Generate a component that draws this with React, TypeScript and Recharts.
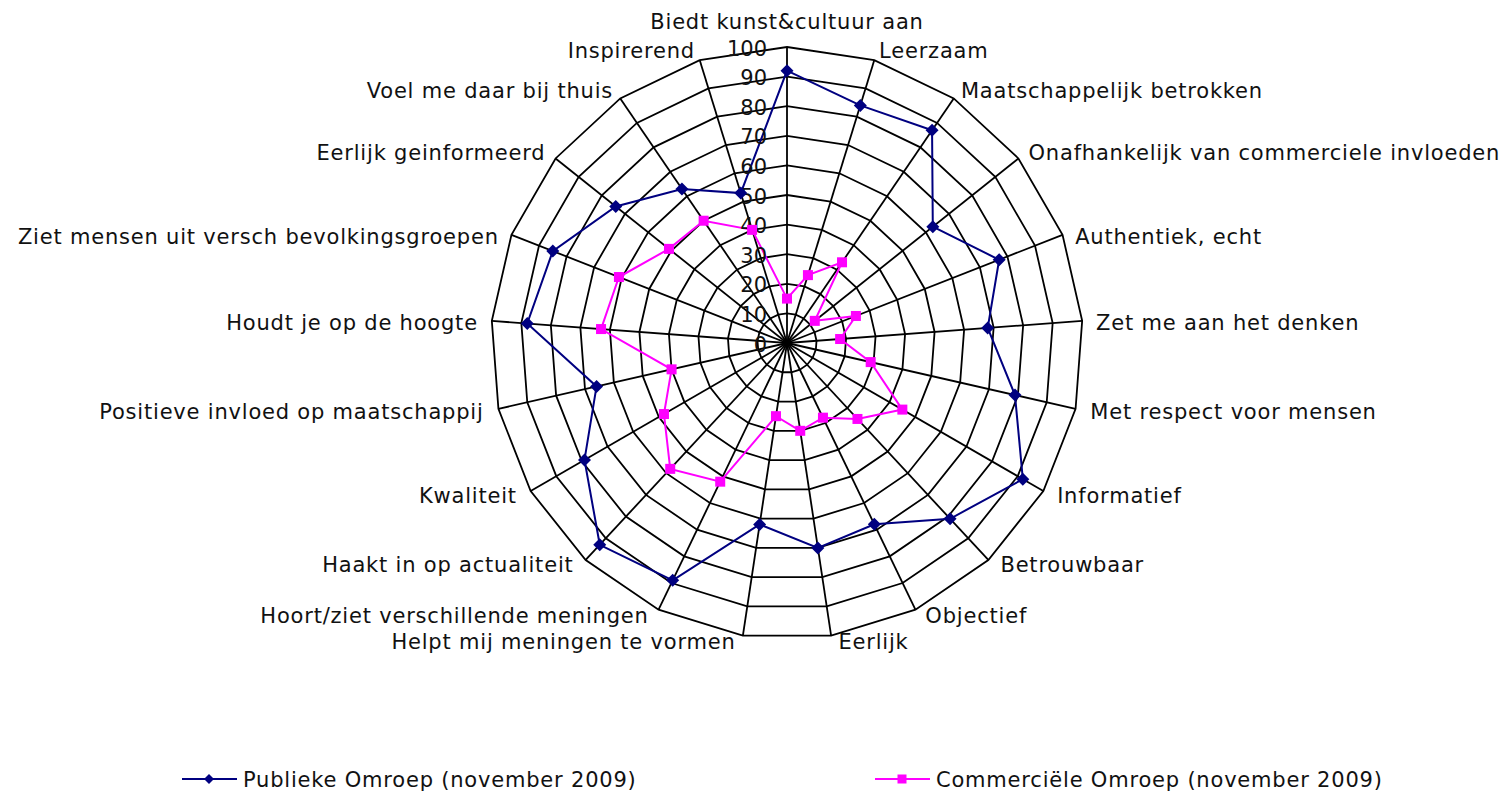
import React from 'react';
import { RadarChart, PolarGrid, PolarAngleAxis, PolarRadiusAxis, Radar, Legend } from 'recharts';

const categories = [
  'Biedt kunst&cultuur aan',
  'Leerzaam',
  'Maatschappelijk betrokken',
  'Onafhankelijk van commerciele invloeden',
  'Authentiek, echt',
  'Zet me aan het denken',
  'Met respect voor mensen',
  'Informatief',
  'Betrouwbaar',
  'Objectief',
  'Eerlijk',
  'Helpt mij meningen te vormen',
  'Hoort/ziet verschillende meningen',
  'Haakt in op actualiteit',
  'Kwaliteit',
  'Positieve invloed op maatschappij',
  'Houdt je op de hoogte',
  'Ziet mensen uit versch bevolkingsgroepen',
  'Eerlijk geinformeerd',
  'Voel me daar bij thuis',
  'Inspirerend',
];

const publiekeOmroep = [92, 84, 87, 63, 77, 68, 79, 92, 81, 68, 70, 62, 89, 93, 79, 66, 88, 85, 74, 63, 53];
const commercieleOmroep = [15, 24, 33, 12, 25, 18, 29, 45, 35, 28, 30, 25, 52, 58, 48, 40, 63, 61, 51, 50, 40];

const radiusDomain = [0, 100];
const radiusTickCount = 11;

const seriesKeys = ['publiek', 'commercieel'];
const seriesNames = ['Publieke Omroep (november 2009)', 'Commerciële Omroep (november 2009)'];
const seriesColors = ['#000080', '#FF00FF'];

const data = categories.map((c, i) => ({
  category: c,
  publiek: publiekeOmroep[i],
  commercieel: commercieleOmroep[i],
}));

const W = 1510;
const H = 794;
const CX = 787;
const CY = 343;
const R = 296;
const FONT = '"DejaVu Sans", Verdana, sans-serif';
const FS = 21;
const LS = 0.8;
const TEXT_COLOR = '#111';
const LEGEND_ITEM_X = [182, 875];

function AngleTick(props: any) {
  const { x, y, payload } = props;
  const dx = x - CX;
  const dy = y - CY;
  const len = Math.hypot(dx, dy) || 1;
  const s = dx / len;
  const c = -dy / len;
  const vx = CX + R * s;
  const vy = CY - R * c;
  let anchor: 'start' | 'end' | 'middle' = 'middle';
  let tx = vx;
  let baseline = vy - 18;
  if (Math.abs(s) >= 0.02) {
    const gap = c > 0 ? 4 + 10 * s * s : 6 + 9 * Math.abs(s);
    tx = vx + Math.sign(s) * gap;
    anchor = s > 0 ? 'start' : 'end';
    const off = c > 0.45 ? -10 * c : 2 + (c < 0 ? 4 * -c : 0);
    baseline = vy + off + 0.36 * FS;
  }
  return (
    <text
      x={tx}
      y={baseline}
      textAnchor={anchor}
      fontFamily={FONT}
      fontSize={FS}
      letterSpacing={LS}
      fill={TEXT_COLOR}
    >
      {payload.value}
    </text>
  );
}

function RadiusTick(props: any) {
  const { x, y, payload } = props;
  return (
    <text
      x={x - 20}
      y={y + 0.36 * FS + 1}
      textAnchor="end"
      fontFamily={FONT}
      fontSize={FS}
      fill={TEXT_COLOR}
    >
      {payload.value}
    </text>
  );
}

function Diamond(props: any) {
  const { cx, cy } = props;
  if (cx == null || cy == null) return null;
  const h = 6.5;
  return (
    <path
      d={`M${cx},${cy - h}L${cx + h},${cy}L${cx},${cy + h}L${cx - h},${cy}Z`}
      fill={seriesColors[0]}
      stroke="none"
    />
  );
}

function Square(props: any) {
  const { cx, cy } = props;
  if (cx == null || cy == null) return null;
  const h = 5;
  return <rect x={cx - h} y={cy - h} width={2 * h} height={2 * h} fill={seriesColors[1]} stroke="none" />;
}

function LegendContent(props: any) {
  const payload = props.payload || [];
  const cy = 17;
  return (
    <svg width={W} height={34} style={{ display: 'block' }}>
      {payload.map((p: any) => {
        let i = seriesKeys.indexOf(p.dataKey);
        if (i < 0) i = seriesNames.indexOf(p.value);
        if (i < 0) return null;
        const x0 = LEGEND_ITEM_X[i];
        const color = seriesColors[i];
        const mx = x0 + 27;
        return (
          <g key={i}>
            <line x1={x0} x2={x0 + 55} y1={cy} y2={cy} stroke={color} strokeWidth={2} />
            {i === 0 ? (
              <path d={`M${mx},${cy - 5}L${mx + 5},${cy}L${mx},${cy + 5}L${mx - 5},${cy}Z`} fill={color} />
            ) : (
              <rect x={mx - 4.5} y={cy - 4.5} width={9} height={9} fill={color} />
            )}
            <text
              x={x0 + 61}
              y={cy + 0.36 * FS}
              fontFamily={FONT}
              fontSize={FS}
              letterSpacing={LS}
              fill={TEXT_COLOR}
            >
              {seriesNames[i]}
            </text>
          </g>
        );
      })}
    </svg>
  );
}

export default function App() {
  return (
    <div style={{ position: 'absolute', left: 0, top: 0, width: W, height: H, background: '#fff' }}>
      <RadarChart
        width={W}
        height={H}
        data={data}
        cx={CX}
        cy={CY}
        outerRadius={R}
        margin={{ top: 0, right: 0, bottom: 0, left: 0 }}
      >
        <PolarGrid gridType="polygon" stroke="#000" strokeWidth={1.8} strokeOpacity={1} />
        <PolarAngleAxis dataKey="category" tick={<AngleTick />} tickLine={false} axisLine={false} />
        <PolarRadiusAxis
          angle={90}
          type="number"
          domain={radiusDomain as any}
          tickCount={radiusTickCount}
          axisLine={false}
          tickLine={false}
          tick={<RadiusTick />}
        />
        <Radar
          name={seriesNames[0]}
          dataKey={seriesKeys[0]}
          stroke={seriesColors[0]}
          strokeWidth={2}
          fill="none"
          fillOpacity={0}
          dot={<Diamond />}
          activeDot={false}
          isAnimationActive={false}
        />
        <Radar
          name={seriesNames[1]}
          dataKey={seriesKeys[1]}
          stroke={seriesColors[1]}
          strokeWidth={2}
          fill="none"
          fillOpacity={0}
          dot={<Square />}
          activeDot={false}
          isAnimationActive={false}
        />
        <Legend
          content={<LegendContent />}
          wrapperStyle={{ position: 'absolute', left: 0, top: 762, bottom: 'auto', width: W, height: 34 }}
        />
      </RadarChart>
    </div>
  );
}
